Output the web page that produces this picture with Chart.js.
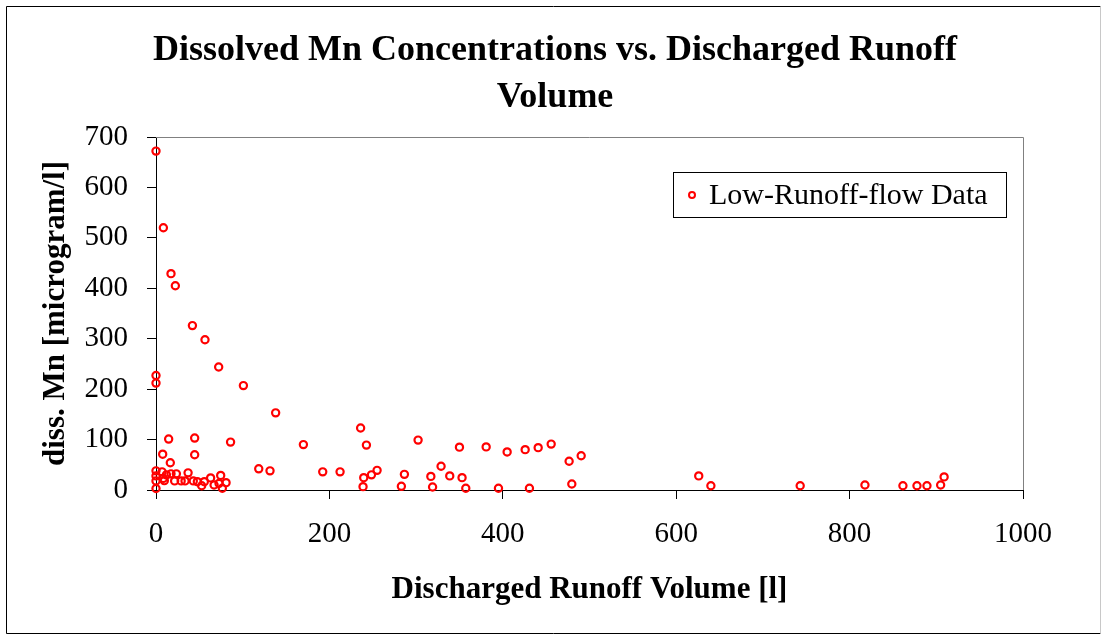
<!DOCTYPE html>
<html>
<head>
<meta charset="utf-8">
<script src="https://cdn.jsdelivr.net/npm/chart.js@4.4.1/dist/chart.umd.min.js"></script>
<style>
    html, body { margin: 0; padding: 0; background: #fff; }
    #wrap { width: 1104px; height: 637px; }
</style>
</head>
<body>
<div id="wrap"><canvas id="mnChart" width="1104" height="637"></canvas></div>
<script>
// Discharged runoff volume [l]
const runoffVolume = [
    0, 8.5, 17.3, 22.3, 42, 56.5, 72.3, 0, 0, 100.8,
    138, 14.6, 44.6, 86, 7.7, 44.6, 16.5, 118.5, 131.5, 0,
    0, 0, 0, 7, 9.6, 17.3, 23.5, 21.5, 29, 33.5,
    37, 43, 47.7, 52.7, 55.7, 63, 67, 74.6, 72.7, 76.5,
    80.8, 8.4, 12, 170, 192.3, 212.3, 236, 242.7, 239.6, 238.8,
    248.5, 255, 283, 286.5, 302.3, 317, 319, 328.8, 338.8, 350,
    353, 357.3, 380.8, 395, 405, 425.8, 430.7, 440.8, 455.8, 476.5,
    479.6, 490.4, 626, 640, 743, 817.7, 861.5, 877.7, 889.2, 905,
    909
];
// dissolved Mn [microgram/l]
const dissMn = [
    672, 520, 429, 405, 326, 298, 244, 227, 212, 207,
    153, 101, 103, 95, 71, 70, 54, 42, 38, 38,
    28, 18, 3, 36, 18.5, 32, 32, 18, 18, 18,
    34, 18, 16.5, 8.5, 16.5, 24, 10, 29, 13, 3.4,
    14.5, 23, 30, 90, 36, 36, 123, 89, 24.5, 6.6,
    30, 39, 7.3, 31, 99, 27, 6, 47, 28, 85,
    24.5, 3.4, 85.5, 3.4, 75.5, 80, 3.4, 84, 91, 57,
    12, 68, 28, 8.5, 8.5, 10, 8.5, 8.5, 8.5, 10,
    26
];
const xTicks = [0, 200, 400, 600, 800, 1000];
const yTicks = [0, 100, 200, 300, 400, 500, 600, 700];
const titleLines = ['Dissolved Mn Concentrations vs. Discharged Runoff', 'Volume'];
const seriesName = 'Low-Runoff-flow Data';

const serif = '"Liberation Serif", "Times New Roman", serif';

// frame, title and legend box like the spreadsheet chart
const chartDecor = {
    id: 'chartDecor',
    beforeDatasetsDraw(chart) {
        const { ctx, chartArea } = chart;
        ctx.save();
        ctx.strokeStyle = '#808080';
        ctx.lineWidth = 1;
        ctx.beginPath();
        ctx.moveTo(chartArea.left, chartArea.top + 0.5);
        ctx.lineTo(chartArea.right + 0.5, chartArea.top + 0.5);
        ctx.lineTo(chartArea.right + 0.5, chartArea.bottom);
        ctx.stroke();
        ctx.restore();
    },
    afterDraw(chart) {
        const ctx = chart.ctx;
        ctx.save();
        // outer border
        ctx.strokeStyle = '#000';
        ctx.lineWidth = 1;
        ctx.beginPath();
        ctx.moveTo(1100.5, 6.5);
        ctx.lineTo(6.5, 6.5);
        ctx.lineTo(6.5, 633.5);
        ctx.lineTo(1100.5, 633.5);
        ctx.stroke();
        ctx.strokeStyle = '#c8c8c8';
        ctx.beginPath();
        ctx.moveTo(1100.5, 6.5);
        ctx.lineTo(1100.5, 633.5);
        ctx.stroke();

        // title
        ctx.fillStyle = '#000';
        ctx.font = 'bold 36px ' + serif;
        ctx.textAlign = 'center';
        ctx.textBaseline = 'middle';
        ctx.fillText(titleLines[0], 555, 51);
        ctx.fillText(titleLines[1], 555, 98);

        // legend
        ctx.fillStyle = '#fff';
        ctx.fillRect(673, 172, 333, 45);
        ctx.strokeStyle = '#000';
        ctx.strokeRect(673.5, 172.5, 333, 45);
        ctx.strokeStyle = '#ff0000';
        ctx.lineWidth = 2;
        ctx.beginPath();
        ctx.arc(692, 195, 3, 0, Math.PI * 2);
        ctx.stroke();
        ctx.fillStyle = '#000';
        ctx.font = '30px ' + serif;
        ctx.textAlign = 'left';
        ctx.fillText(seriesName, 709, 196);
        ctx.restore();
    }
};

document.addEventListener('DOMContentLoaded', function () {
    const ctx = document.getElementById('mnChart').getContext('2d');
    new Chart(ctx, {
        type: 'scatter',
        data: {
            datasets: [{
                label: seriesName,
                data: runoffVolume.map((v, i) => ({ x: v, y: dissMn[i] })),
                pointStyle: 'circle',
                pointRadius: 3.6,
                pointBorderWidth: 2.2,
                borderColor: '#ff0000',
                backgroundColor: 'rgba(255,255,255,0)',
                clip: false
            }]
        },
        options: {
            responsive: false,
            animation: false,
            events: [],
            layout: {
                padding: { top: 137, left: 6, right: 81, bottom: 6 }
            },
            plugins: {
                legend: { display: false },
                title: { display: false },
                tooltip: { enabled: false }
            },
            scales: {
                x: {
                    type: 'linear',
                    min: 0,
                    max: 1000,
                    afterFit: function (scale) { scale.height = 141; },
                    afterBuildTicks: function (scale) {
                        scale.ticks = xTicks.map(v => ({ value: v }));
                    },
                    grid: {
                        drawOnChartArea: false,
                        drawTicks: true,
                        tickLength: 9,
                        color: '#000'
                    },
                    border: { color: '#000', width: 1 },
                    ticks: {
                        color: '#000',
                        padding: 18,
                        maxRotation: 0,
                        font: { family: serif, size: 29 },
                        callback: function (value) { return String(value); }
                    },
                    title: {
                        display: true,
                        text: 'Discharged Runoff Volume [l]',
                        color: '#000',
                        font: { family: serif, size: 31, weight: 'bold' },
                        padding: { top: 0, bottom: 22 }
                    }
                },
                y: {
                    type: 'linear',
                    min: 0,
                    max: 700,
                    afterFit: function (scale) { scale.width = 150; },
                    afterBuildTicks: function (scale) {
                        scale.ticks = yTicks.map(v => ({ value: v }));
                    },
                    grid: {
                        drawOnChartArea: false,
                        drawTicks: true,
                        tickLength: 9,
                        color: '#000'
                    },
                    border: { color: '#000', width: 1 },
                    ticks: {
                        color: '#000',
                        padding: 19,
                        font: { family: serif, size: 29 },
                        callback: function (value) { return String(value); }
                    },
                    title: {
                        display: true,
                        text: 'diss. Mn [microgram/l]',
                        color: '#000',
                        font: { family: serif, size: 31, weight: 'bold' },
                        padding: { top: 31, bottom: 0 }
                    }
                }
            }
        },
        plugins: [chartDecor]
    });
});
</script>
</body>
</html>
